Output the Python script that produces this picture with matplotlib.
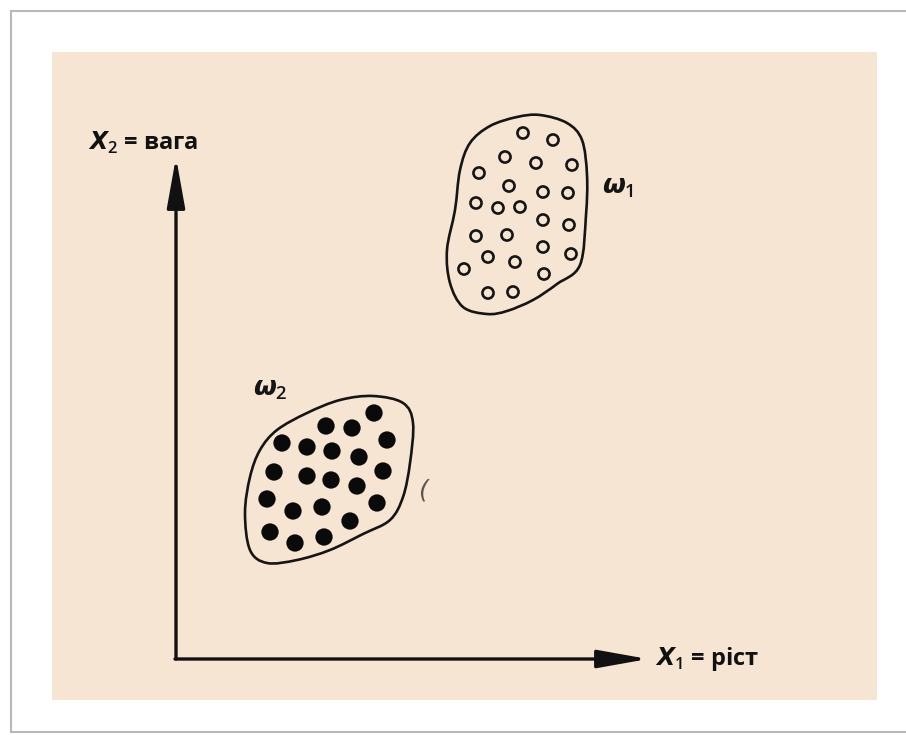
import numpy as np
import matplotlib.pyplot as plt
from matplotlib.path import Path
from matplotlib.patches import PathPatch, Rectangle

# Feature space: two classes of samples, x1 = height (ріст), x2 = weight (вага)
# all coordinates are in figure pixels (origin top-left)

# class w1 - hollow circles
w1_x = [523, 553, 505, 536, 572, 479, 509, 543, 568, 476, 498, 520,
        543, 569, 476, 507, 488, 515, 543, 571, 464, 544, 488, 513]
w1_y = [133, 140, 157, 163, 165, 173, 186, 192, 193, 203, 208, 207,
        220, 225, 236, 235, 257, 262, 247, 254, 269, 274, 293, 292]

# class w2 - filled dots
w2_x = [374, 326, 352, 282, 307, 332, 387, 359, 274, 307, 331,
        357, 383, 267, 293, 322, 377, 350, 270, 295, 324]
w2_y = [413, 426, 428, 443, 447, 451, 440, 457, 472, 476, 480,
        486, 471, 499, 511, 507, 503, 521, 532, 543, 537]

# cluster boundaries (closed outlines)
w1_bx = [540, 567, 582, 587, 586, 580, 557, 533, 507, 487, 463, 450, 447, 455, 460, 470, 490, 517]
w1_by = [115, 123, 140, 175, 215, 265, 284, 300, 311, 314, 307, 283, 250, 210, 170, 143, 126, 117]
w2_bx = [373, 403, 413, 410, 403, 390, 363, 330, 297, 267, 250, 245, 250, 260, 277, 307, 340]
w2_by = [396, 403, 423, 463, 497, 520, 534, 550, 560, 563, 550, 513, 477, 450, 430, 413, 400]

PAPER = '#f7e5d4'
INK = '#111111'

plt.rcParams['mathtext.fontset'] = 'custom'
plt.rcParams['mathtext.it'] = 'DejaVu Sans:italic:bold'
plt.rcParams['mathtext.rm'] = 'Open Sans:semibold'


def smooth_closed(xs, ys):
    """Closed Catmull-Rom outline turned into cubic Bezier path."""
    p = np.column_stack([xs, ys]).astype(float)
    n = len(p)
    verts = [p[0]]
    codes = [Path.MOVETO]
    for i in range(n):
        p0, p1, p2, p3 = p[i - 1], p[i], p[(i + 1) % n], p[(i + 2) % n]
        c1 = p1 + (p2 - p0) / 6.0
        c2 = p2 - (p3 - p1) / 6.0
        verts += [c1, c2, p2]
        codes += [Path.CURVE4] * 3
    return Path(verts, codes)


fig = plt.figure(figsize=(9.06, 7.35), dpi=100)
ax = fig.add_axes([0, 0, 1, 1])
ax.set_xlim(0, 906)
ax.set_ylim(735, 0)
ax.axis('off')

# card frame and paper background
ax.add_patch(Rectangle((11, 11), 930, 721, facecolor='white',
                       edgecolor='#b8b8b8', lw=1.5, zorder=0))
ax.add_patch(Rectangle((52, 52), 825, 648, facecolor=PAPER,
                       edgecolor='none', zorder=1))

# axes with arrows
arrow = dict(arrowstyle='-|>,head_length=1.4,head_width=0.25', lw=2.4,
             color=INK, shrinkA=0, shrinkB=0, mutation_scale=22)
ax.annotate('', xy=(176, 157), xytext=(176, 659), arrowprops=arrow, zorder=3)
ax.annotate('', xy=(648, 659), xytext=(175, 659), arrowprops=arrow, zorder=3)

ax.text(88, 143, r'$X_2$ = вага', fontsize=17, ha='left', va='center', color=INK,
        family='Open Sans', fontweight='bold')
ax.text(655, 659, r'$X_1$ = ріст', fontsize=17, ha='left', va='center', color=INK,
        family='Open Sans', fontweight='bold')

# class outlines
for bx, by in [(w1_bx, w1_by), (w2_bx, w2_by)]:
    ax.add_patch(PathPatch(smooth_closed(bx, by), facecolor='none',
                           edgecolor='#151515', lw=1.9, zorder=2))

ax.scatter(w1_x, w1_y, s=64, facecolors='none', edgecolors='#151515',
           linewidths=1.9, zorder=4)
ax.scatter(w2_x, w2_y, s=155, c='#0a0a0a', edgecolors='none', zorder=4)

ax.text(602, 187, r'$\omega_1$', fontsize=19, ha='left', va='center', color='#151515')
ax.text(253, 389, r'$\omega_2$', fontsize=19, ha='left', va='center', color='#151515')
ax.text(418, 490, '(', fontsize=18, ha='left', va='center', color='#333333',
        style='italic', alpha=0.8)

fig.savefig('out.png', dpi=100)
